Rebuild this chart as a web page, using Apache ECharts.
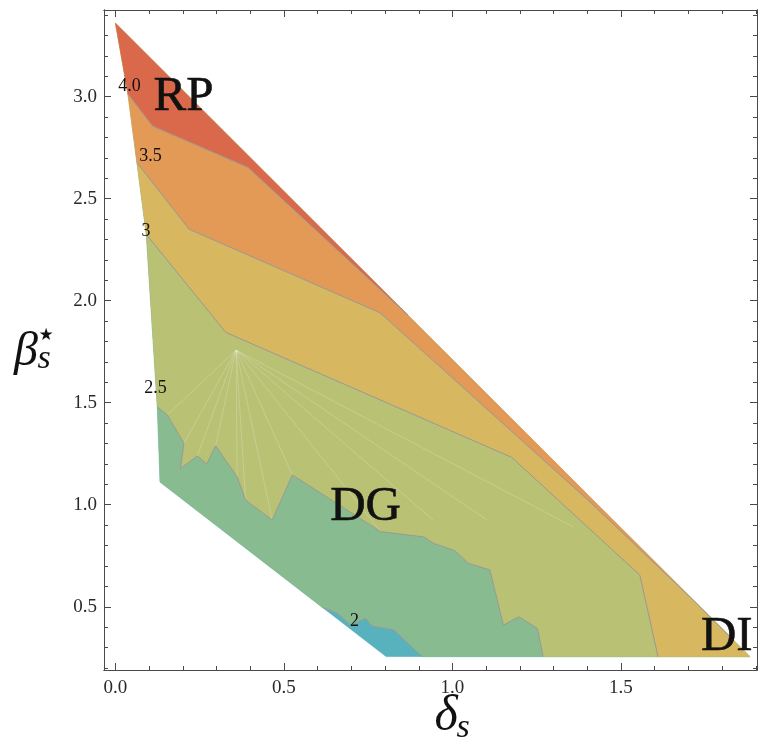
<!DOCTYPE html>
<html><head><meta charset="utf-8">
<script src="https://cdn.jsdelivr.net/npm/echarts@6/dist/echarts.min.js"></script>
<style>html,body{margin:0;padding:0;background:#fff}#c{width:759px;height:742px}</style>
</head><body><div id="c"></div>
<script>
// ---- data ----
const xTicks = [0, 0.5, 1.0, 1.5];
const xMinorTicks = [0,0.1,0.2,0.3,0.4,0.5,0.6,0.7,0.8,0.9,1.0,1.1,1.2,1.3,1.4,1.5,1.6,1.7,1.8,1.9];
const yTicks = [0.5, 1.0, 1.5, 2.0, 2.5, 3.0];
const yMinorTicks = [0.2,0.3,0.4,0.5,0.6,0.7,0.8,0.9,1.0,1.1,1.2,1.3,1.4,1.5,1.6,1.7,1.8,1.9,2.0,2.1,2.2,2.3,2.4,2.5,2.6,2.7,2.8,2.9,3.0,3.1,3.2,3.3,3.4];

// domain boundary: left edge from top vertex down to lower-left corner
const leftEdge = [[0.0,3.36],[0.037,3.013],[0.0638,2.676],[0.0914,2.325],[0.124,1.48],[0.132,1.111]];
const bottomLeft = [0.803,0.255];
const tip = [1.883,0.255];

// contour lines (level sets)
const c20 = [[0.613,0.497],[0.658,0.468],[0.698,0.410],[0.742,0.443],[0.761,0.405],[0.802,0.394],[0.826,0.386],[0.910,0.255]];
const c25 = [[0.124,1.48],[0.154,1.44],[0.203,1.301],[0.193,1.178],[0.243,1.239],[0.271,1.200],[0.297,1.289],[0.361,1.137],[0.386,1.023],[0.465,0.925],[0.525,1.146],[0.787,0.868],[0.915,0.842],[0.943,0.811],[1.007,0.775],[1.047,0.713],[1.111,0.680],[1.151,0.410],[1.197,0.451],[1.252,0.394],[1.269,0.255]];
const c30 = [[0.0914,2.325],[0.327,1.845],[1.176,1.232],[1.556,0.655],[1.610,0.255]];
const c35 = [[0.0638,2.676],[0.218,2.351],[0.785,1.941],[1.007,1.611],[1.402,1.023],[1.714,0.533],[1.823,0.354]];
const c40 = [[0.037,3.013],[0.1104,2.856],[0.393,2.654],[0.868,1.929]];

const contourLabels = [[0.0415,3.052,'4.0'],[0.104,2.707,'3.5'],[0.0905,2.342,'3'],[0.119,1.571,'2.5'],[0.709,0.427,'2']];
const regionLabels = [[0.202,2.999,'RP'],[0.742,0.986,'DG'],[1.814,0.353,'DI']];

// faint triangulation mesh lines
const meshFanCenter = [0.358,1.758];
const meshFanEnds = [[0.154,1.44],[0.203,1.301],[0.243,1.239],[0.297,1.289],[0.361,1.137],[0.386,1.023],[0.465,0.925],[0.525,1.146],[0.787,0.868],[0.942,0.926],[1.102,0.926],[1.359,0.891]];

const bandColors = ['#58B2BE','#88BB8F','#B8C174','#D7B760','#E39A57','#DA684A'];

// ---- build polygons (painter's order: each level's superlevel set over the previous) ----
function superlevel(c){
  const last = c[c.length-1];
  const pts = c.slice();
  if (last[1] <= tip[1] + 1e-6) pts.push(tip);
  leftEdge.forEach(p => { if (p[1] > c[0][1] + 1e-6) pts.push(p); });
  return pts;
}
const bands = [
  leftEdge.concat([bottomLeft, tip]),
  superlevel(c20),
  superlevel(c25),
  superlevel(c30),
  superlevel(c35),
  superlevel(c40)
];
const contours = [c20, c25, c30, c35, c40];

const X_MIN = -0.0341, X_MAX = 1.9036, Y_MIN = 0.190, Y_MAX = 3.425;
const AX = '#4a4a4a';
const LBL = {color:'#2a2a2a', fontFamily:'"Liberation Serif", serif', fontSize:19};

function xAxisCfg(pos, vals, len, showLabel){
  return {type:'value', position:pos, min:X_MIN, max:X_MAX,
    axisLine:{show:true, onZero:false, lineStyle:{color:AX, width:1}},
    axisTick:{show:true, inside:true, length:len, customValues:vals, lineStyle:{color:AX, width:1}},
    axisLabel:Object.assign({show:showLabel, customValues:xTicks, margin:9, formatter:v=>Number(v).toFixed(1)}, LBL),
    splitLine:{show:false}};
}
function yAxisCfg(pos, vals, len, showLabel){
  return {type:'value', position:pos, min:Y_MIN, max:Y_MAX,
    axisLine:{show:true, onZero:false, lineStyle:{color:AX, width:1}},
    axisTick:{show:true, inside:true, length:len, customValues:vals, lineStyle:{color:AX, width:1}},
    axisLabel:Object.assign({show:showLabel, customValues:yTicks, margin:7, formatter:v=>Number(v).toFixed(1)}, LBL),
    splitLine:{show:false}};
}

const series = [];
series.push({
  type:'custom', silent:true, clip:true, xAxisIndex:0, yAxisIndex:0,
  data: bands.map((b,i)=>[b[0][0], b[0][1], i]),
  renderItem:(params, api)=>{
    const i = params.dataIndex;
    return {type:'polygon', shape:{points: bands[i].map(p=>api.coord(p))},
      style:{fill:bandColors[i], stroke:bandColors[i], lineWidth:0.3}};
  }
});
// mesh lines
meshFanEnds.forEach(e=>{
  series.push({type:'line', xAxisIndex:0, yAxisIndex:0, silent:true, showSymbol:false, symbol:'none',
    data:[meshFanCenter, e], lineStyle:{color:'rgba(255,255,255,0.3)', width:0.7}, z:3});
});
contours.forEach(c=>{
  series.push({type:'line', xAxisIndex:0, yAxisIndex:0, silent:true, showSymbol:false, symbol:'none',
    data:c, lineStyle:{color:'#999', width:1}, z:4});
});
// text labels drawn at data coordinates
function textSeries(items, size, border){
  return {type:'custom', silent:true, clip:false, xAxisIndex:0, yAxisIndex:0, z:6,
    data: items,
    renderItem:(params, api)=>{
      const p = api.coord([api.value(0), api.value(1)]);
      return {type:'text', x:p[0], y:p[1], style:{text: items[params.dataIndex][2],
        font: size + 'px "Liberation Serif"', fill:'#111', stroke:'#111', lineWidth:border,
        textAlign:'center', textVerticalAlign:'middle'}};
    }};
}
series.push(textSeries(contourLabels, 18, 0));
series.push(textSeries(regionLabels, 49, 0.6));

const chart = echarts.init(document.getElementById('c'), null, {renderer:'canvas'});
chart.setOption({
  animation:false,
  backgroundColor:'#fff',
  grid:{left:104, right:2, top:10, bottom:72, containLabel:false, outerBoundsMode:'none'},
  xAxis:[xAxisCfg('bottom', xTicks, 7, true), xAxisCfg('bottom', xMinorTicks, 4, false),
         xAxisCfg('top', xTicks, 7, false), xAxisCfg('top', xMinorTicks, 4, false)],
  yAxis:[yAxisCfg('left', yTicks, 7, true), yAxisCfg('left', yMinorTicks, 4, false),
         yAxisCfg('right', yTicks, 7, false), yAxisCfg('right', yMinorTicks, 4, false)],
  series:series,
  graphic:[
    {type:'text', x:446, y:717, style:{text:'\u03b4', font:'italic 50px "Liberation Serif"', fill:'#111', textAlign:'center', textVerticalAlign:'middle'}},
    {type:'text', x:463, y:728, style:{text:'s', font:'italic 34px "Liberation Serif"', fill:'#111', textAlign:'center', textVerticalAlign:'middle'}},
    {type:'text', x:26, y:352, style:{text:'\u03b2', font:'italic 48px "Liberation Serif"', fill:'#111', textAlign:'center', textVerticalAlign:'middle'}},
    {type:'text', x:46, y:336, style:{text:'\u2605', font:'17px "DejaVu Sans"', fill:'#111', textAlign:'center', textVerticalAlign:'middle'}},
    {type:'text', x:44, y:359, style:{text:'s', font:'italic 34px "Liberation Serif"', fill:'#111', textAlign:'center', textVerticalAlign:'middle'}}
  ]
});
</script></body></html>
